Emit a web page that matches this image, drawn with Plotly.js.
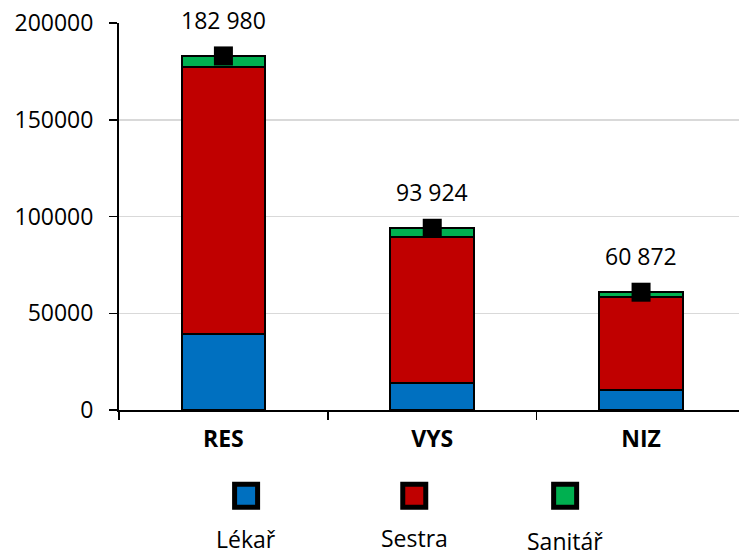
<!DOCTYPE html>
<html>
<head>
<meta charset="utf-8">
<script src="https://cdn.plot.ly/plotly-3.0.1.min.js"></script>
<style>
  html, body { margin: 0; padding: 0; background: #fff; }
  #chart { width: 739px; height: 557px; }
</style>
</head>
<body>
<div id="chart"></div>
<script>
// ---- data ----
const categories = ['RES', 'VYS', 'NIZ'];
const seriesNames = ['Lékař', 'Sestra', 'Sanitář'];
const lekar   = [39500, 14100, 10300];
const sestra  = [137600, 75500, 48300];
const sanitar = [5880, 4324, 2272];
const totals  = [182980, 93924, 60872];
const yTickVals = [0, 50000, 100000, 150000, 200000];

// ---- styles / layout constants ----
const colors = ['#0070C0', '#C00000', '#00B050'];
const FONT = 'Open Sans, sans-serif';
const FS = 23;
// legend placement in pixel coordinates (layout, not data)
const legendKeyX = [245.7, 414, 565];
const legendKeyY = 495.7;
const legendLabelY = [539, 538, 540.5];

function fmt(v) {
  return String(v).replace(/\B(?=(\d{3})+(?!\d))/g, ' ');
}

const seriesValues = [lekar, sestra, sanitar];
const traces = seriesValues.map((vals, i) => ({
  type: 'bar',
  x: categories,
  y: vals,
  name: seriesNames[i],
  width: 0.4,
  marker: { color: colors[i], line: { color: '#000', width: 2 } },
  showlegend: false,
  hoverinfo: 'skip'
}));

traces.push({
  type: 'scatter',
  mode: 'markers',
  x: categories,
  y: totals,
  marker: { symbol: 'square', size: 19, color: '#000' },
  showlegend: false,
  hoverinfo: 'skip'
});

// custom legend keys
traces.push({
  type: 'scatter',
  mode: 'markers',
  xaxis: 'x2',
  yaxis: 'y2',
  x: legendKeyX,
  y: legendKeyX.map(() => legendKeyY),
  marker: { symbol: 'square', size: 23, color: colors, line: { color: '#000', width: 5 } },
  showlegend: false,
  hoverinfo: 'skip'
});

const annotations = categories.map((c, i) => ({
  x: c, y: totals[i], xref: 'x', yref: 'y',
  text: fmt(totals[i]), showarrow: false,
  yshift: 36, yanchor: 'middle',
  font: { family: FONT, size: FS, color: '#000' }
}));
seriesNames.forEach((n, i) => {
  annotations.push({
    x: legendKeyX[i], y: legendLabelY[i], xref: 'x2', yref: 'y2',
    text: n, showarrow: false, xanchor: 'center', yanchor: 'middle',
    borderpad: 0,
    font: { family: FONT, size: FS, color: '#000' }
  });
});

const plotBottomFrac = (557 - 410) / (557 - 23);

const layout = {
  width: 739,
  height: 557,
  margin: { l: 118.5, r: 0, t: 23, b: 0, pad: 0 },
  paper_bgcolor: '#fff',
  plot_bgcolor: '#fff',
  barmode: 'stack',
  font: { family: FONT, size: FS, color: '#000' },
  xaxis: {
    type: 'category',
    range: [-0.5, 2.469],
    showline: true, linecolor: '#000', linewidth: 2,
    ticks: 'outside', tickson: 'boundaries', ticklen: 8, tickwidth: 1.5, tickcolor: '#000',
    ticklabelstandoff: 7,
    tickfont: { family: FONT, size: FS, color: '#000', weight: 700 },
    showgrid: false, zeroline: false, fixedrange: true
  },
  yaxis: {
    domain: [plotBottomFrac, 1],
    range: [0, 200000],
    tickvals: yTickVals,
    tickformat: 'd',
    showline: true, linecolor: '#000', linewidth: 2,
    ticks: 'outside', ticklen: 8, tickwidth: 1.5, tickcolor: '#000',
    ticklabelstandoff: 11,
    tickfont: { family: FONT, size: FS, color: '#000' },
    showgrid: true, gridcolor: '#d9d9d9', gridwidth: 1.5,
    zeroline: false, fixedrange: true
  },
  xaxis2: {
    anchor: 'y2', domain: [0, 1], range: [118.5, 739],
    visible: false, fixedrange: true
  },
  yaxis2: {
    anchor: 'x2', domain: [0, plotBottomFrac], range: [557, 410],
    visible: false, fixedrange: true
  },
  annotations: annotations,
  showlegend: false
};

Plotly.newPlot('chart', traces, layout, { staticPlot: true, displayModeBar: false });
</script>
</body>
</html>
